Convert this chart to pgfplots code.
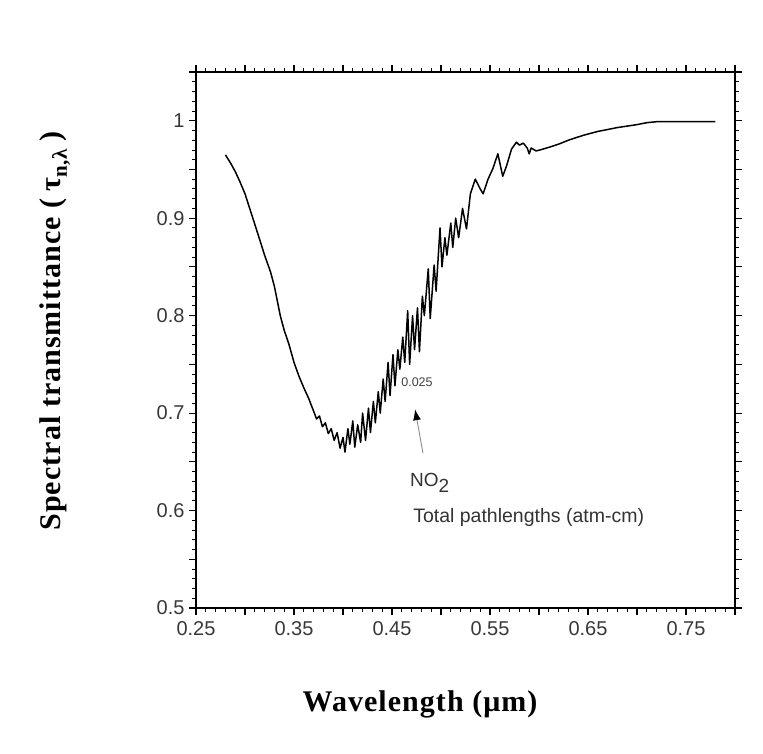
\documentclass[border=0pt]{standalone}
\usepackage{fontspec}
\setmainfont{Liberation Serif}
\newfontfamily\arialfont{Liberation Sans}
\newfontfamily\labelfont[LetterSpace=3.5]{Liberation Serif}
\usepackage{pgfplots}
\pgfplotsset{compat=1.18}
\usetikzlibrary{arrows.meta}

% NO2 spectral transmittance, total pathlength 0.025 atm-cm
\pgfplotstableread{
lambda tau
0.280 0.965
0.285 0.957
0.290 0.948
0.295 0.937
0.300 0.925
0.308 0.900
0.315 0.878
0.320 0.862
0.326 0.845
0.330 0.830
0.336 0.800
0.340 0.785
0.345 0.770
0.350 0.752
0.355 0.738
0.360 0.726
0.365 0.715
0.370 0.702
0.373 0.694
0.376 0.697
0.379 0.686
0.382 0.690
0.385 0.679
0.388 0.684
0.391 0.672
0.394 0.680
0.397 0.664
0.400 0.675
0.402 0.660
0.405 0.684
0.407 0.668
0.410 0.692
0.412 0.665
0.415 0.688
0.418 0.670
0.420 0.700
0.423 0.672
0.426 0.705
0.428 0.680
0.431 0.712
0.433 0.690
0.436 0.722
0.438 0.700
0.441 0.735
0.443 0.712
0.446 0.752
0.448 0.718
0.451 0.760
0.453 0.728
0.456 0.765
0.458 0.745
0.461 0.778
0.463 0.752
0.466 0.805
0.468 0.750
0.471 0.800
0.473 0.765
0.476 0.808
0.478 0.763
0.481 0.820
0.483 0.800
0.487 0.848
0.489 0.797
0.493 0.852
0.495 0.825
0.499 0.890
0.501 0.850
0.504 0.880
0.506 0.862
0.510 0.895
0.512 0.870
0.515 0.900
0.518 0.880
0.522 0.910
0.526 0.889
0.530 0.925
0.535 0.940
0.540 0.930
0.543 0.925
0.548 0.940
0.553 0.951
0.558 0.966
0.563 0.943
0.567 0.954
0.572 0.971
0.577 0.978
0.580 0.975
0.584 0.977
0.588 0.972
0.590 0.966
0.592 0.972
0.597 0.969
0.601 0.970
0.611 0.973
0.620 0.976
0.630 0.980
0.645 0.985
0.660 0.989
0.680 0.993
0.700 0.996
0.710 0.998
0.720 0.999
0.780 0.999
}\notwo

\begin{document}
\begin{tikzpicture}[x=1pt,y=1pt]
\useasboundingbox (0,0) rectangle (763,753);
\begin{axis}[
  at={(196pt,145pt)}, anchor=south west,
  scale only axis, width=539pt, height=536pt,
  xmin=0.25, xmax=0.80, ymin=0.5, ymax=1.05,
  xtick={0.25,0.30,0.35,0.40,0.45,0.50,0.55,0.60,0.65,0.70,0.75,0.80},
  xticklabels={0.25,,0.35,,0.45,,0.55,,0.65,,0.75,},
  ytick={0.50,0.55,0.60,0.65,0.70,0.75,0.80,0.85,0.90,0.95,1.00,1.05},
  yticklabels={0.5,,0.6,,0.7,,0.8,,0.9,,1,},
  minor x tick num=4, minor y tick num=4,
  tick align=outside,
  major tick length=7pt, minor tick length=4pt,
  major tick style={black, line width=1.1pt},
  minor tick style={black, line width=0.9pt},
  axis line style={black, line width=1.3pt},
  ticklabel style={font=\arialfont\fontsize{20}{22}\selectfont, text=black!78},
  xticklabel style={yshift=-3pt},
  yticklabel style={xshift=-1pt},
  clip=false,
]
\addplot[black, line width=1.5pt, line join=round] table[x=lambda, y=tau] {\notwo};

\node[font=\arialfont\fontsize{12.5}{13}\selectfont, text=black!75]
  at (axis cs:0.4755,0.7315) {0.025};
\draw[black!45, line width=0.9pt,
  -{Latex[length=11pt,width=8pt,fill=black,color=black]}]
  (axis cs:0.4816,0.659) -- (axis cs:0.4735,0.704);
\node[anchor=base west, inner sep=0pt, font=\arialfont\fontsize{19}{22}\selectfont, text=black!80]
  at (axis cs:0.4684,0.6245) {NO\raisebox{-6pt}{2}};
\node[anchor=base west, inner sep=0pt, font=\arialfont\fontsize{19.5}{22}\selectfont, text=black!80]
  at (axis cs:0.4715,0.5875) {Total pathlengths (atm-cm)};
\end{axis}

\node[rotate=90, font=\labelfont\bfseries\fontsize{30}{32}\selectfont]
  at (55,422) {Spectral transmittance (\hspace{7pt}τ\textsubscript{n,λ}\hspace{7pt})};
\node[font=\labelfont\bfseries\fontsize{30}{32}\selectfont]
  at (420,49) {Wavelength (μm)};
\end{tikzpicture}
\end{document}
